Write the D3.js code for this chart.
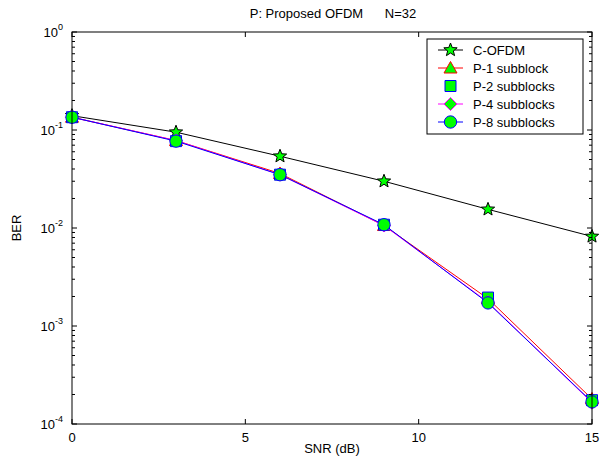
<!DOCTYPE html>
<html>
<head>
<meta charset="utf-8">
<script src="https://cdn.jsdelivr.net/npm/d3@7"></script>
<style>
  body { margin: 0; background: #fff; }
  svg { display: block; font-family: "Liberation Sans", Arial, sans-serif; }
</style>
</head>
<body>
<svg id="chart" width="605" height="459"></svg>
<script>
// SNR points (dB)
const snr = [0, 3, 6, 9, 12, 15];

// BER values
const berConv = [0.14, 0.095, 0.054, 0.030, 0.0155, 0.0082];
const berP1 = [0.135, 0.078, 0.036, 0.0106, 0.0019, 0.00018];
const berP2 = [0.135, 0.077, 0.035, 0.0108, 0.00195, 0.000175];
const berP4 = [0.135, 0.078, 0.035, 0.0106, 0.00175, 0.000165];
const berP8 = [0.135, 0.077, 0.035, 0.0108, 0.00172, 0.000168];

const seriesNames = ["C-OFDM", "P-1 subblock", "P-2 subblocks", "P-4 subblocks", "P-8 subblocks"];
const xTicks = [0, 5, 10, 15];
const yDecades = [1, 0.1, 0.01, 0.001, 0.0001];

const margin = {top: 32, right: 13, bottom: 35, left: 72};
const width = 605 - margin.left - margin.right;
const height = 459 - margin.top - margin.bottom;

const svg = d3.select("#chart");

const x = d3.scaleLinear().domain([0, 15]).range([0, width]);
const y = d3.scaleLog().domain([1e-4, 1]).range([height, 0]);

const g = svg.append("g")
    .attr("transform", `translate(${margin.left},${margin.top})`);

// series styles: line colour, marker shape, marker edge
const styles = [
    {line: "#000", shape: "star", edge: "#000", data: berConv},
    {line: "#f00", shape: "triangle", edge: "#f00", data: berP1},
    {line: null, shape: "square", edge: "#00f", data: berP2},
    {line: "#f0f", shape: "diamond", edge: "#f0f", data: berP4},
    {line: "#00f", shape: "circle", edge: "#00f", data: berP8}
];

function markerPath(shape) {
    if (shape === "star") {
        let pts = [];
        for (let i = 0; i < 10; i++) {
            const r = i % 2 === 0 ? 7 : 3;
            const a = -Math.PI / 2 + i * Math.PI / 5;
            pts.push([r * Math.cos(a), r * Math.sin(a)]);
        }
        return "M" + pts.map(p => p.join(",")).join("L") + "Z";
    }
    if (shape === "triangle") return "M0,-6.5L6.5,5L-6.5,5Z";
    if (shape === "square") return "M-5.5,-5.5H5.5V5.5H-5.5Z";
    if (shape === "diamond") return "M0,-6.5L6.5,0L0,6.5L-6.5,0Z";
    return d3.symbol(d3.symbolCircle, 120)();
}

const line = d3.line()
    .x((d, i) => x(snr[i]))
    .y(d => y(d));

styles.forEach(s => {
    if (s.line) {
        g.append("path")
            .attr("d", line(s.data))
            .attr("fill", "none")
            .attr("stroke", s.line)
            .attr("stroke-width", 1);
    }
    g.selectAll(null)
        .data(s.data)
        .enter().append("path")
        .attr("transform", (d, i) => `translate(${x(snr[i])},${y(d)})`)
        .attr("d", markerPath(s.shape))
        .attr("fill", "#0f0")
        .attr("stroke", s.edge)
        .attr("stroke-width", 1);
});

// frame and ticks
g.append("rect")
    .attr("width", width).attr("height", height)
    .attr("fill", "none").attr("stroke", "#000").attr("stroke-width", 1);

const xAxis = g.append("g").attr("transform", `translate(0,${height})`);
xTicks.forEach(t => {
    xAxis.append("line").attr("x1", x(t)).attr("x2", x(t)).attr("y1", 0).attr("y2", -5).attr("stroke", "#000");
    g.append("line").attr("x1", x(t)).attr("x2", x(t)).attr("y1", 0).attr("y2", 5).attr("stroke", "#000");
    xAxis.append("text").attr("x", x(t)).attr("y", 18).attr("text-anchor", "middle")
        .attr("font-size", 13).text(t);
});

// log minor ticks
const minors = [];
for (let e = -4; e < 0; e++) {
    for (let m = 1; m < 10; m++) minors.push(m * Math.pow(10, e));
}
minors.push(1);
minors.forEach(v => {
    const major = Math.abs(Math.log10(v) - Math.round(Math.log10(v))) < 1e-9;
    const len = major ? 5 : 3;
    g.append("line").attr("x1", 0).attr("x2", len).attr("y1", y(v)).attr("y2", y(v)).attr("stroke", "#000");
    g.append("line").attr("x1", width).attr("x2", width - len).attr("y1", y(v)).attr("y2", y(v)).attr("stroke", "#000");
});

yDecades.forEach(v => {
    const ex = Math.round(Math.log10(v));
    const t = g.append("text").attr("x", -9).attr("y", y(v) + 5).attr("text-anchor", "end")
        .attr("font-size", 13);
    t.append("tspan").text("10");
    t.append("tspan").attr("dy", -7).attr("font-size", 9).text(ex);
});

// labels
svg.append("text").attr("x", margin.left + width / 2).attr("y", 453)
    .attr("text-anchor", "middle").attr("font-size", 13).text("SNR (dB)");
svg.append("text").attr("transform", `translate(21,${margin.top + height / 2}) rotate(-90)`)
    .attr("text-anchor", "middle").attr("font-size", 13).text("BER");
svg.append("text").attr("x", 333).attr("y", 18).attr("text-anchor", "middle")
    .attr("font-size", 13).attr("xml:space", "preserve").text("P: Proposed OFDM      N=32");

// legend
const lg = svg.append("g").attr("transform", "translate(427,39)");
lg.append("rect").attr("width", 156).attr("height", 95)
    .attr("fill", "#fff").attr("stroke", "#000").attr("stroke-width", 1);
styles.forEach((s, i) => {
    const yy = 11 + i * 18;
    if (s.line) {
        lg.append("line").attr("x1", 11).attr("x2", 36).attr("y1", yy).attr("y2", yy)
            .attr("stroke", s.line);
    }
    lg.append("path").attr("transform", `translate(23.5,${yy})`)
        .attr("d", markerPath(s.shape)).attr("fill", "#0f0").attr("stroke", s.edge);
    lg.append("text").attr("x", 46).attr("y", yy + 5).attr("font-size", 13).text(seriesNames[i]);
});
</script>
</body>
</html>
